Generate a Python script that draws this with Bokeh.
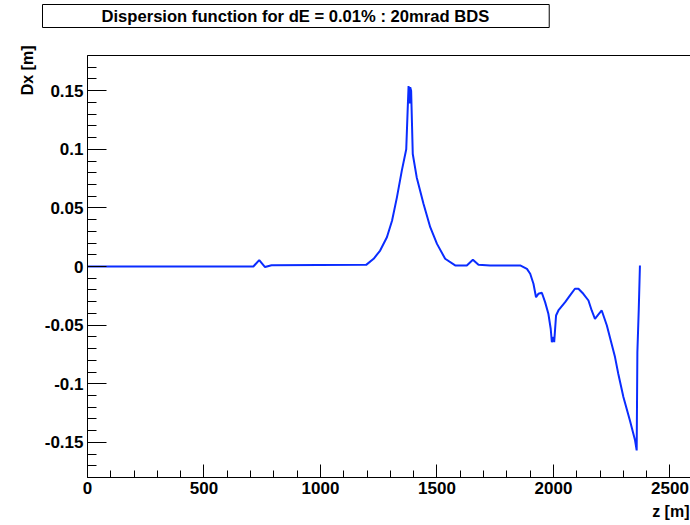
from bokeh.plotting import figure
from bokeh.models import FixedTicker, LinearAxis, Range1d, Title
from bokeh.embed import file_html
from bokeh.resources import INLINE

# ---- data ----
z = [0, 700, 712, 737, 762, 790, 1196, 1228, 1256, 1285, 1307, 1328, 1349, 1368, 1374, 1378,
     1382, 1385, 1389, 1396, 1413, 1442, 1471, 1500, 1535, 1578, 1628, 1654, 1678, 1728,
     1857, 1886, 1900, 1914, 1925, 1935, 1950, 1964, 1978, 1988, 1993, 2000, 2003, 2011, 2021,
     2050, 2071, 2092, 2107, 2128, 2150, 2164, 2178, 2193, 2207, 2229, 2264, 2278, 2300, 2328,
     2350, 2357, 2360, 2366, 2371]
dx = [0, 0, 0, 0.0055, -0.0005, 0.001, 0.0014, 0.0066, 0.0136, 0.025, 0.039, 0.059, 0.0818, 0.100, 0.133, 0.154,
      0.139, 0.153, 0.150, 0.096, 0.076, 0.0535, 0.0335, 0.0193, 0.0066, 0.0009, 0.0009, 0.0057, 0.0014, 0.0009,
      0.0009, -0.002, -0.0062, -0.0147, -0.0262, -0.0233, -0.0224, -0.0304, -0.0403, -0.0531, -0.0645, -0.0603,
      -0.0645, -0.0418, -0.0375, -0.0304, -0.0247, -0.019, -0.019, -0.0233, -0.029, -0.0375, -0.0446, -0.0409,
      -0.0375, -0.0503, -0.0773, -0.0915, -0.1114, -0.1313, -0.1483, -0.1569, -0.0731, -0.0361, 0.0009]

x_major = [0, 500, 1000, 1500, 2000, 2500]
x_minor = [0, 100, 200, 300, 400, 500, 600, 700, 800, 900, 1000, 1100, 1200, 1300, 1400, 1500,
           1600, 1700, 1800, 1900, 2000, 2100, 2200, 2300, 2400, 2500]
y_major = [-0.15, -0.1, -0.05, 0.0, 0.05, 0.1, 0.15]
y_labels = ["-0.15", "-0.1", "-0.05", "0", "0.05", "0.1", "0.15"]
y_minor = [-0.18, -0.17, -0.16, -0.15, -0.14, -0.13, -0.12, -0.11, -0.1, -0.09, -0.08, -0.07, -0.06,
           -0.05, -0.04, -0.03, -0.02, -0.01, 0.0, 0.01, 0.02, 0.03, 0.04, 0.05, 0.06, 0.07, 0.08,
           0.09, 0.1, 0.11, 0.12, 0.13, 0.14, 0.15, 0.16, 0.17, 0.18]

title_text = "Dispersion function for dE = 0.01% : 20mrad BDS"
x_title = "z [m]"
y_title = "Dx [m]"

FONT = "Liberation Sans"
FS = "17px"

p = figure(width=690, height=525, x_range=Range1d(0, 2588), y_range=Range1d(-0.18, 0.18),
           output_backend="svg", toolbar_location=None, title=None,
           min_border_left=87, min_border_right=0, min_border_top=55, min_border_bottom=48)
p.background_fill_color = "white"
p.border_fill_color = "white"
p.outline_line_color = None
p.xgrid.visible = False
p.ygrid.visible = False

p.line(z, dx, line_color="#0a2cff", line_width=2)

xa = p.xaxis[0]
xa.ticker = FixedTicker(ticks=x_major, minor_ticks=x_minor)
xa.major_tick_in = 13
xa.major_tick_out = 0
xa.minor_tick_in = 7
xa.minor_tick_out = 0
xa.major_label_standoff = 4
xa.major_label_text_font = FONT
xa.major_label_text_font_style = "bold"
xa.major_label_text_font_size = FS
xa.major_label_text_color = "black"
xa.axis_line_color = "black"
xa.major_tick_line_color = "black"
xa.minor_tick_line_color = "black"

ya = p.yaxis[0]
ya.ticker = FixedTicker(ticks=y_major, minor_ticks=y_minor)
ya.major_label_overrides = {v: s for v, s in zip(y_major, y_labels)}
ya.major_tick_in = 19
ya.major_tick_out = 0
ya.minor_tick_in = 9
ya.minor_tick_out = 0
ya.major_label_standoff = 4
ya.major_label_text_font = FONT
ya.major_label_text_font_style = "bold"
ya.major_label_text_font_size = FS
ya.major_label_text_color = "black"
ya.axis_line_color = "black"
ya.major_tick_line_color = "black"
ya.minor_tick_line_color = "black"

# top frame edge; one invisible tick whose outward length reserves room under the title
top = LinearAxis(ticker=FixedTicker(ticks=[1300], minor_ticks=[]), major_tick_in=0, major_tick_out=22,
                 minor_tick_in=0, minor_tick_out=0, major_label_text_color=None,
                 major_label_text_font_size="1px", major_label_standoff=0,
                 major_label_overrides={1300: ""},
                 major_tick_line_color=None, minor_tick_line_color=None,
                 axis_line_color="black")
p.add_layout(top, "above")

main_title = Title(text=title_text, align="left", offset=-45, vertical_align="top",
                   standoff=8, text_font=FONT, text_font_style="bold", text_font_size="16.6px",
                   text_color="black", background_fill_color="white",
                   border_line_color="black", border_line_width=1,
                   padding=dict(left=59, right=60, top=2, bottom=2))
p.add_layout(main_title, "above")

ytitle = Title(text=y_title, align="right", offset=-10, vertical_align="middle", standoff=10,
               text_font=FONT, text_font_style="bold", text_font_size="16px", text_color="black")
p.add_layout(ytitle, "left")

xtitle = Title(text=x_title, align="right", offset=1, vertical_align="middle", standoff=10,
               text_font=FONT, text_font_style="bold", text_font_size="16px", text_color="black")
p.add_layout(xtitle, "below")

open("out.html", "w").write(file_html(p, INLINE))
